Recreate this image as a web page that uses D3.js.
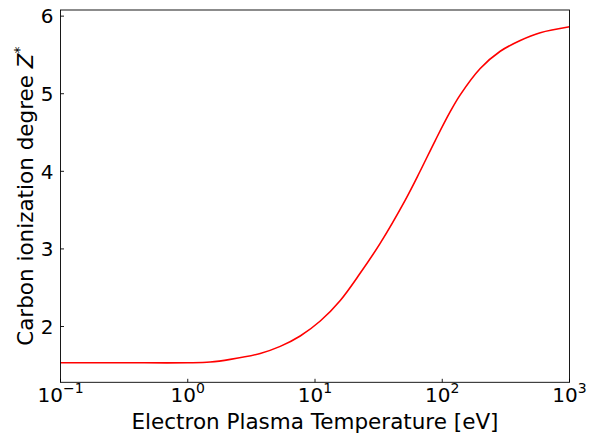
<!DOCTYPE html>
<html>
<head>
<meta charset="utf-8">
<script src="https://cdnjs.cloudflare.com/ajax/libs/d3/7.8.5/d3.min.js"></script>
<style>
  body { margin: 0; background: #fff; }
  text { font-family: "DejaVu Sans", sans-serif; fill: #000; }
</style>
</head>
<body>
<div id="chart"></div>
<script>
// values
var temperature = [0.1, 0.3, 1.0, 1.5, 2.16, 3.71, 5.33, 7.65, 11.0, 15.8, 22.7, 32.5, 51.2, 67.1, 88.1, 115.5, 138.4, 198.8, 285.5, 410, 589, 1000];
var zStar = [1.533, 1.533, 1.533, 1.542, 1.576, 1.653, 1.744, 1.878, 2.071, 2.336, 2.689, 3.072, 3.630, 4.004, 4.397, 4.768, 4.985, 5.325, 5.547, 5.686, 5.786, 5.863];
var xTickExp = [-1, 0, 1, 2, 3];
var yTicks = [2, 3, 4, 5, 6];

var W = 589, H = 436;
var margin = {top: 10, right: 19.5, bottom: 53.7, left: 60.5},
    width = W - margin.left - margin.right,
    height = H - margin.top - margin.bottom;

var svg = d3.select("#chart").append("svg")
    .attr("width", W)
    .attr("height", H);

var g = svg.append("g")
    .attr("transform", "translate(" + margin.left + "," + margin.top + ")");

var x = d3.scaleLog().domain([0.1, 1000]).range([0, width]);
var y = d3.scaleLinear().domain([1.281, 6.079]).range([height, 0]);

// the curve
var line = d3.line()
    .x(function(d) { return x(d[0]); })
    .y(function(d) { return y(d[1]); })
    .curve(d3.curveCatmullRom.alpha(0.5));

g.append("path")
    .datum(temperature.map(function(t, i) { return [t, zStar[i]]; }))
    .attr("d", line)
    .attr("fill", "none")
    .attr("stroke", "#ff0000")
    .attr("stroke-width", 1.6);

// frame
g.append("rect")
    .attr("width", width).attr("height", height)
    .attr("fill", "none").attr("stroke", "#000").attr("stroke-width", 0.9);

// x ticks (inward) + labels
var xt = g.selectAll(".xtick").data(xTickExp).enter().append("g")
    .attr("transform", function(d) { return "translate(" + x(Math.pow(10, d)) + "," + height + ")"; });
xt.append("line").attr("y1", 0).attr("y2", -3.5).attr("stroke", "#000").attr("stroke-width", 0.9);
var xl = xt.append("text")
    .attr("y", 19.5)
    .attr("text-anchor", "middle")
    .style("font-size", "20px");
xl.append("tspan").text("10");
xl.append("tspan")
    .attr("dy", -8.5)
    .style("font-size", "14px")
    .text(function(d) { return d < 0 ? "\u2212" + (-d) : d; });

// y ticks (inward) + labels
var yt = g.selectAll(".ytick").data(yTicks).enter().append("g")
    .attr("transform", function(d) { return "translate(0," + y(d) + ")"; });
yt.append("line").attr("x1", 0).attr("x2", 3.5).attr("stroke", "#000").attr("stroke-width", 0.9);
yt.append("text")
    .attr("x", -7)
    .attr("dy", "0.36em")
    .attr("text-anchor", "end")
    .style("font-size", "20px")
    .text(function(d) { return d; });

// axis titles
svg.append("text")
    .attr("x", margin.left + width / 2)
    .attr("y", 429)
    .attr("text-anchor", "middle")
    .style("font-size", "21.5px")
    .text("Electron Plasma Temperature [eV]");

var yl = svg.append("text")
    .attr("transform", "translate(33," + (margin.top + height / 2) + ") rotate(-90)")
    .attr("text-anchor", "middle")
    .style("font-size", "21.5px");
yl.append("tspan").text("Carbon ionization degree ");
yl.append("tspan").style("font-style", "italic").text("Z");
yl.append("tspan").attr("dy", -9).style("font-size", "14px").text("*");
</script>
</body>
</html>
